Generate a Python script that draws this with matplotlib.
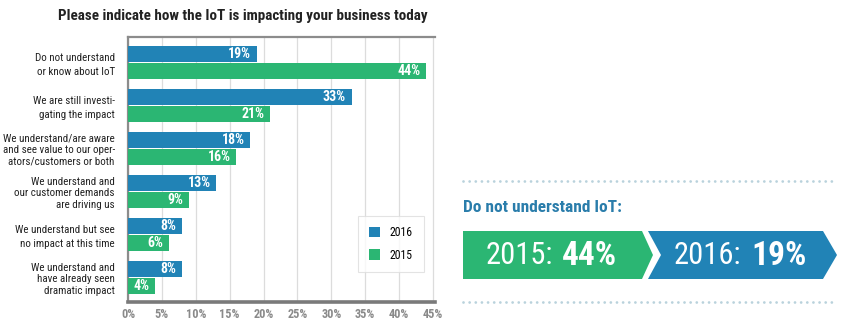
import numpy as np
import matplotlib
matplotlib.use("Agg")
import matplotlib.pyplot as plt
from matplotlib.patches import Patch, Polygon
from matplotlib.lines import Line2D

plt.rcParams['font.family'] = ['Roboto Condensed', 'DejaVu Sans']

categories = [
    "Do not understand\nor know about IoT",
    "We are still investi-\ngating the impact",
    "We understand/are aware\nand see value to our oper-\nators/customers or both",
    "We understand and\nour customer demands\nare driving us",
    "We understand but see\nno impact at this time",
    "We understand and\nhave already seen\ndramatic impact",
]
vals_2016 = [19, 33, 18, 13, 8, 8]
vals_2015 = [44, 21, 16, 9, 6, 4]
xticks = [0, 5, 10, 15, 20, 25, 30, 35, 40, 45]

blue = "#2183b6"
green = "#2bb673"

W, H = 854, 334
fig = plt.figure(figsize=(W / 100, H / 100), dpi=100)


def px(x, y):
    return (x / W, 1 - y / H)


# bar chart
ax = fig.add_axes([128 / W, (H - 302) / H, (435 - 128) / W, (302 - 37) / H])
y = np.arange(len(categories))
bh = 0.372
ax.barh(y - 0.198, vals_2016, height=bh, color=blue, label="2016", zorder=3)
ax.barh(y + 0.198, vals_2015, height=bh, color=green, label="2015", zorder=3)

for yi, v in zip(y, vals_2016):
    ax.annotate(f"{v}%", (v, yi - 0.198), xytext=(-4, 0), textcoords="offset points",
                ha="right", va="center", color="white", fontsize=10, fontweight="bold", zorder=4)
for yi, v in zip(y, vals_2015):
    ax.annotate(f"{v}%", (v, yi + 0.198), xytext=(-4, 0), textcoords="offset points",
                ha="right", va="center", color="white", fontsize=10, fontweight="bold", zorder=4)

ax.set_xlim(0, 45.3)
ax.set_ylim(5.57, -0.593)
ax.set_xticks(xticks)
ax.set_xticklabels([f"{t}%" for t in xticks], color="#8a8a8a", fontsize=8.8, fontweight="bold")
ax.set_yticks(y)
ax.set_yticklabels(categories, fontsize=7.9, color="#222222", ha="right")
for lab, txt in zip(ax.get_yticklabels(), categories):
    lab.set_linespacing(1.5 if txt.count("\n") == 1 else 1.2)
ax.tick_params(axis="y", length=0, pad=9.5)
ax.tick_params(axis="x", length=0, pad=4)
ax.grid(axis="x", color="#dcdcdc", lw=0.9, zorder=0)
ax.spines["right"].set_visible(False)
ax.spines["top"].set_color("#8c8c8c")
ax.spines["top"].set_linewidth(1.6)
ax.spines["left"].set_color("#8c8c8c")
ax.spines["left"].set_linewidth(1.6)
ax.spines["bottom"].set_color("#7a7a7a")
ax.spines["bottom"].set_linewidth(2.6)

handles = [Patch(facecolor=blue, label="2016"), Patch(facecolor=green, label="2015")]
leg = ax.legend(handles=handles, loc="lower left", bbox_to_anchor=(0.73, 0.09),
                fancybox=False, edgecolor="#dddddd", handlelength=1.0, handleheight=1.0,
                fontsize=8.5, borderpad=0.9, labelspacing=0.8, handletextpad=0.8)
leg.get_frame().set_linewidth(0.8)

fig.text(243 / W, 1 - 16 / H, "Please indicate how the IoT is impacting your business today",
         ha="center", va="center", fontsize=10.9, fontweight="bold", color="#222222")

# side panel
for yy in (181, 302):
    fig.add_artist(Line2D([463 / W, 837 / W], [1 - yy / H] * 2, transform=fig.transFigure,
                          color="#b9d2dc", lw=2, linestyle=(0, (0.01, 2.2)),
                          dash_capstyle="round"))

fig.text(463 / W, 1 - 207 / H, "Do not understand IoT:", ha="left", va="center",
         fontsize=12.5, fontweight="bold", color="#2a7dab")

green_pts = [px(463, 231), px(642, 231), px(653, 255), px(642, 279), px(463, 279)]
blue_pts = [px(648, 231), px(823, 231), px(837, 255), px(823, 279), px(648, 279), px(661, 255)]
fig.add_artist(Polygon(green_pts, closed=True, transform=fig.transFigure, facecolor=green, edgecolor="none"))
fig.add_artist(Polygon(blue_pts, closed=True, transform=fig.transFigure, facecolor=blue, edgecolor="none"))

fig.text(553 / W, 1 - 256 / H, "2015:", ha="right", va="center", fontsize=22, color="white")
fig.text(562 / W, 1 - 256 / H, f"{vals_2015[0]}%", ha="left", va="center", fontsize=24,
         fontweight="bold", color="white")
fig.text(741 / W, 1 - 256 / H, "2016:", ha="right", va="center", fontsize=22, color="white")
fig.text(751 / W, 1 - 256 / H, f"{vals_2016[0]}%", ha="left", va="center", fontsize=24,
         fontweight="bold", color="white")

fig.savefig("out.png", dpi=100)
